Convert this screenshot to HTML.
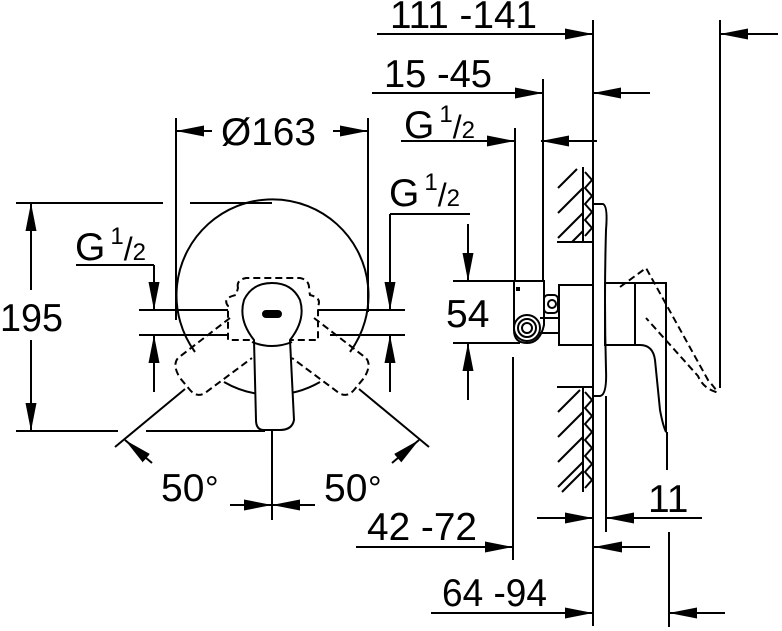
<!DOCTYPE html>
<html><head><meta charset="utf-8"><style>
html,body{margin:0;padding:0;background:#fff;}
svg{display:block;}
text{font-family:"Liberation Sans",Arial,sans-serif;fill:#000;}
</style></head><body>
<svg width="782" height="631" viewBox="0 0 782 631" xmlns="http://www.w3.org/2000/svg">
<defs>
<marker id="a" markerUnits="userSpaceOnUse" markerWidth="28" markerHeight="12" refX="28" refY="6" orient="auto">
<polygon points="0,0.5 28,6 0,11.5" fill="#000"/></marker>
</defs>
<g stroke="#000" stroke-width="2" fill="none">
<line x1="16" y1="203" x2="163" y2="203"/><line x1="190" y1="203" x2="272" y2="203"/>
<line x1="16" y1="431" x2="118" y2="431"/><line x1="146" y1="431" x2="265" y2="431"/>
<line x1="31" y1="290" x2="31" y2="203" marker-end="url(#a)"/>
<line x1="31" y1="340" x2="31" y2="431" marker-end="url(#a)"/>
<line x1="176" y1="118" x2="176" y2="320"/><line x1="368" y1="118" x2="368" y2="312"/>
<line x1="212" y1="131" x2="176" y2="131" marker-end="url(#a)"/>
<line x1="333" y1="131" x2="368" y2="131" marker-end="url(#a)"/>
<path d="M195,352 A96,96 0 1 1 350,352"/>
<path d="M224,382 A96,96 0 0 0 320,382"/>
<line x1="139" y1="310" x2="228" y2="310"/><line x1="318" y1="310" x2="405" y2="310"/>
<line x1="139" y1="335" x2="228" y2="335"/><line x1="330" y1="335" x2="405" y2="335"/>
<line x1="76" y1="265" x2="154" y2="265"/>
<line x1="154" y1="265" x2="154" y2="310" marker-end="url(#a)"/>
<line x1="154" y1="392" x2="154" y2="335" marker-end="url(#a)"/>
<line x1="390" y1="214" x2="470" y2="214"/>
<line x1="390" y1="214" x2="390" y2="310" marker-end="url(#a)"/>
<line x1="390" y1="392" x2="390" y2="335" marker-end="url(#a)"/>
<path d="M238,288 Q236,280 246,278 L300,278 Q310,280 309,290 L310,295 Q322,298 318,306 L318,340 L228,340 L228,306 Q222,298 236,295 Z" stroke-dasharray="7,4"/>
<path d="M230,318 L178,358 Q172,365 180,378 L190,390 Q197,398 205,393 L252,358" stroke-dasharray="7,4"/>
<path d="M314,318 L366,358 Q372,365 364,378 L354,390 Q347,398 339,393 L292,358" stroke-dasharray="7,4"/>
<path d="M254,340 Q238,320 244,300 Q252,283 272,283 Q292,283 300,300 Q306,320 290,340 L294,420 Q292,430 280,430 L264,430 Q256,430 256,420 Z" fill="#fff"/>
<rect x="263" y="311" width="18" height="6" rx="3" fill="#000"/>
<path d="M252,342 Q272,350 292,342"/>
<line x1="272" y1="431" x2="272" y2="520"/>
<line x1="115" y1="447" x2="185" y2="389"/>
<line x1="429" y1="447" x2="359" y2="389"/>
<line x1="152" y1="463" x2="125" y2="440" marker-end="url(#a)"/>
<line x1="392" y1="463" x2="419" y2="440" marker-end="url(#a)"/>
<line x1="230" y1="505" x2="272" y2="505" marker-end="url(#a)"/>
<line x1="315" y1="505" x2="272" y2="505" marker-end="url(#a)"/>
<line x1="377" y1="34" x2="593" y2="34" marker-end="url(#a)"/>
<line x1="593" y1="20" x2="593" y2="626"/>
<line x1="720" y1="20" x2="720" y2="388"/>
<line x1="778" y1="34" x2="720" y2="34" marker-end="url(#a)"/>
<line x1="372" y1="93" x2="543" y2="93" marker-end="url(#a)"/>
<line x1="543" y1="79" x2="543" y2="281"/>
<line x1="650" y1="93" x2="593" y2="93" marker-end="url(#a)"/>
<line x1="401" y1="141" x2="515" y2="141" marker-end="url(#a)"/>
<line x1="515" y1="128" x2="515" y2="281"/>
<line x1="597" y1="141" x2="541" y2="141" marker-end="url(#a)"/>
<line x1="453" y1="281" x2="515" y2="281"/><line x1="453" y1="343" x2="520" y2="343"/>
<line x1="468" y1="224" x2="468" y2="281" marker-end="url(#a)"/>
<line x1="468" y1="400" x2="468" y2="343" marker-end="url(#a)"/>
<line x1="557" y1="242" x2="593" y2="242"/>
<line x1="583" y1="167" x2="583" y2="242"/>
<line x1="558" y1="188" x2="577" y2="169"/><line x1="558" y1="213" x2="583" y2="188"/><line x1="558" y1="238" x2="583" y2="213"/><line x1="572" y1="242" x2="583" y2="231"/>
<polyline points="585,172 592,180 585,188 592,196 585,204 592,212 585,220 592,228 585,236"/>
<line x1="557" y1="387" x2="593" y2="387"/>
<line x1="583" y1="387" x2="583" y2="492"/>
<line x1="558" y1="412" x2="580" y2="390"/><line x1="558" y1="437" x2="583" y2="412"/><line x1="558" y1="462" x2="583" y2="437"/><line x1="558" y1="487" x2="583" y2="462"/><line x1="562" y1="492" x2="583" y2="471"/>
<polyline points="585,392 592,400 585,408 592,416 585,424 592,432 585,440 592,448 585,456 592,464 585,472 592,480 585,488"/>
<path d="M593,204 L603,204 Q608,206 606,230 Q604,300 606,370 Q607,395 600,396 L593,396"/>
<rect x="559" y="285" width="34" height="60"/>
<rect x="605" y="283" width="30" height="62"/>
<path d="M635,283 L666,283 L666,432 Q663,426 660,410 L655,360 Q653,345 640,345 L635,345"/>
<path d="M620,287 L646,268 L708,380 Q720,394 716,392 Q703,388 698,376 L646,318" stroke-dasharray="7,4"/>
<line x1="667" y1="432" x2="667" y2="470"/>
<path d="M514,281 L544,281 L544,325 Q540,343 527,343 Q514,343 514,330 Z"/>
<circle cx="527" cy="328" r="13"/><circle cx="527" cy="328" r="9"/><circle cx="527" cy="328" r="5"/>
<rect x="544" y="295" width="14" height="18" rx="4"/><circle cx="552" cy="304" r="4"/>
<line x1="540" y1="318" x2="559" y2="318"/><line x1="540" y1="333" x2="559" y2="333"/>
<line x1="513" y1="357" x2="513" y2="560"/>
<line x1="606" y1="396" x2="606" y2="532"/>
<line x1="537" y1="518" x2="593" y2="518" marker-end="url(#a)"/>
<line x1="702" y1="518" x2="606" y2="518" marker-end="url(#a)"/>
<line x1="356" y1="547" x2="513" y2="547" marker-end="url(#a)"/>
<line x1="650" y1="547" x2="594" y2="547" marker-end="url(#a)"/>
<line x1="431" y1="613" x2="593" y2="613" marker-end="url(#a)"/>
<line x1="669" y1="532" x2="669" y2="627"/>
<line x1="725" y1="613" x2="669" y2="613" marker-end="url(#a)"/>
</g>
<rect x="516" y="287" width="4" height="4" fill="#000"/>
<g font-size="39">
<text x="390" y="28" textLength="147" lengthAdjust="spacingAndGlyphs">111 -141</text>
<text x="384" y="87" textLength="108" lengthAdjust="spacingAndGlyphs">15 -45</text>
<text x="221" y="145" textLength="95" lengthAdjust="spacingAndGlyphs">Ø163</text>
<text x="0" y="331" textLength="63" lengthAdjust="spacingAndGlyphs">195</text>
<text x="446" y="327">54</text>
<text x="161" y="501">50</text><text x="205" y="500" font-size="34">°</text>
<text x="324" y="501">50</text><text x="368" y="500" font-size="34">°</text>
<text x="648" y="512">11</text>
<text x="367" y="540" textLength="110" lengthAdjust="spacingAndGlyphs">42 -72</text>
<text x="442" y="606" textLength="105" lengthAdjust="spacingAndGlyphs">64 -94</text>
<text x="404" y="138">G<tspan font-size="24" dx="5" dy="-16">1</tspan><tspan font-size="32" dy="16">/</tspan><tspan font-size="24">2</tspan></text>
<text x="389" y="206">G<tspan font-size="24" dx="5" dy="-16">1</tspan><tspan font-size="32" dy="16">/</tspan><tspan font-size="24">2</tspan></text>
<text x="75" y="260">G<tspan font-size="24" dx="5" dy="-16">1</tspan><tspan font-size="32" dy="16">/</tspan><tspan font-size="24">2</tspan></text>
</g>
</svg>
</body></html>
